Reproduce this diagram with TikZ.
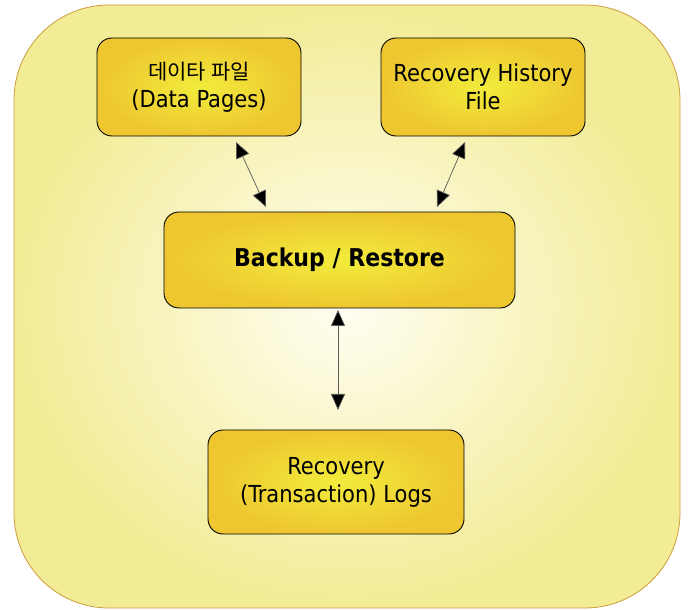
\documentclass[tikz,border=0pt]{standalone}
\usepackage{fontspec}
\setmainfont{DejaVu Sans Condensed}
\newfontfamily\kr{Noto Sans CJK KR}
\usetikzlibrary{arrows.meta}
\definecolor{boxin}{RGB}{242,236,60}
\definecolor{boxout}{RGB}{238,198,48}
\definecolor{bgin}{RGB}{255,254,242}
\definecolor{bgout}{RGB}{242,236,150}
\definecolor{bgedge}{RGB}{205,155,60}
\definecolor{arrline}{RGB}{90,90,90}
\tikzset{
  ybox/.style={draw=black, line width=0.9pt, rounded corners=15pt, inner sep=0pt,
    inner color=boxin, outer color=boxout, align=center, font=\fontsize{23.4}{28}\selectfont},
  biarrow/.style={draw=arrline, line width=0.7pt, {Triangle[length=16pt,width=14pt,fill=black]}-{Triangle[length=16pt,width=14pt,fill=black]}}
}
\begin{document}
\begin{tikzpicture}[x=1pt,y=1pt]
\useasboundingbox (0,0) rectangle (688,610);
\shade[rounded corners=95pt, inner color=bgin, outer color=bgout] (14,2) rectangle (680,605);
\draw[bgedge, line width=0.8pt, rounded corners=95pt] (14,2) rectangle (680,605);
\node[ybox, minimum width=204pt, minimum height=98pt] (data) at (199,523) {{\kr\fontsize{21}{28}\selectfont 데이타 파일}\\(Data Pages)};
\node[ybox, minimum width=204pt, minimum height=98pt] (hist) at (483,523) {Recovery History\\File};
\node[ybox, minimum width=351pt, minimum height=96pt] (br) at (339.5,350) {\fontsize{24.5}{28}\selectfont\bfseries Backup / Restore};
\node[ybox, minimum width=256pt, minimum height=104pt] (logs) at (336,128) {Recovery\\(Transaction) Logs};
\coordinate (a1) at (236,468); \coordinate (a2) at (266,403);
\coordinate (b1) at (465,468); \coordinate (b2) at (437,403);
\coordinate (c1) at (338,300); \coordinate (c2) at (338,200);
\draw[biarrow] (a1) -- (a2);
\draw[biarrow] (b1) -- (b2);
\draw[biarrow] (c1) -- (c2);
\end{tikzpicture}
\end{document}
